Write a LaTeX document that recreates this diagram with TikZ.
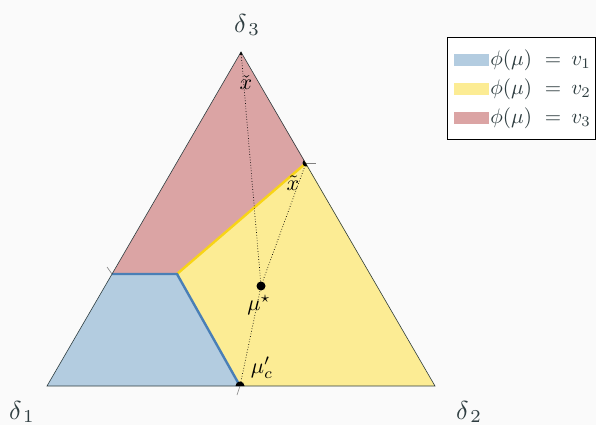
\documentclass[tikz,border=0pt]{standalone}
\usepackage{amsmath,amssymb}
\usepackage{tikz}
\usetikzlibrary{calc}
\definecolor{bg}{HTML}{FAFAFA}
\definecolor{ink}{HTML}{2E3D40}
\definecolor{regone}{HTML}{B3CCE0}
\definecolor{regtwo}{HTML}{FCEC94}
\definecolor{regthree}{HTML}{DBA4A4}
\definecolor{edgeone}{HTML}{4A7FB6}
\definecolor{edgetwo}{HTML}{F8D416}

\begin{document}
\begin{tikzpicture}[x=1pt,y=-1pt,
  vlbl/.style={text=ink,scale=2.6,inner sep=0pt},
  plbl/.style={scale=2.2,inner sep=0pt},
  keylbl/.style={text=ink,scale=2.1,anchor=west,inner sep=0pt},
  guide/.style={dotted,line width=0.7pt},
  tickmark/.style={gray,line width=0.6pt}]
  \fill[bg] (0,0) rectangle (596,425);
  \useasboundingbox (0,0) rectangle (596,425);

  % simplex corners and the points on it
  \coordinate (d1) at (47,386);
  \coordinate (d2) at (435,386);
  \coordinate (d3) at (241,52);
  \coordinate (pl) at (112,274);
  \coordinate (pm) at (177,274);
  \coordinate (xt) at (306,163);
  \coordinate (mc) at (240,386);
  \coordinate (ms) at (261,286);

  \fill[regone] (d1) -- (pl) -- (pm) -- (mc) -- cycle;
  \fill[regtwo] (pm) -- (mc) -- (d2) -- (xt) -- cycle;
  \fill[regthree] (pl) -- (pm) -- (xt) -- (d3) -- cycle;
  \draw[edgetwo,line width=2.4pt] (pm) -- (xt);
  \draw[edgeone,line width=2.4pt] (pl) -- (pm) -- (mc);
  \draw[ink,line width=0.6pt] (d1) -- (d2) -- (d3) -- cycle;

  \draw[tickmark] (pl) -- ++(-5,-7);
  \draw[tickmark] (xt) -- ++(10,0);
  \draw[tickmark] (mc) -- ++(-3,9);

  \draw[guide] (d3) -- (ms);
  \draw[guide] (xt) -- (ms);
  \draw[guide] (ms) -- (mc);

  \begin{scope}
    \clip (d1) -- (d2) -- (d3) -- cycle;
    \fill (d3) circle (3);
    \fill (xt) circle (3.5);
    \fill (mc) circle (4.5);
  \end{scope}
  \fill (ms) circle (4.5);

  \node[vlbl] (l3) at (247,25) {$\delta_{\hspace{1pt}3}$};
  \node[vlbl] (l1) at (22,412) {$\delta_{\hspace{1pt}1}$};
  \node[vlbl] (l2) at (469,412) {$\delta_{\hspace{1pt}2}$};
  \node[plbl] (lxc) at (246,83) {$\check{x}$};
  \node[plbl] (lxt) at (293,183) {$\tilde{x}$};
  \node[plbl] (lms) at (259,305) {$\mu^{\star}$};
  \node[plbl] (lmc) at (262,368) {$\mu_c'$};

  % legend
  \draw[black,fill=white,line width=0.8pt] (447,37) rectangle (595,139);
  \fill[regone] (454,54) rectangle (489,66);
  \fill[regtwo] (454,83) rectangle (489,95);
  \fill[regthree] (454,112) rectangle (489,124);
  \node[keylbl] (k1) at (490,60) {$\phi(\mu)\hspace{3.4pt}=\hspace{2pt}v_1$};
  \node[keylbl] (k2) at (490,89) {$\phi(\mu)\hspace{3.4pt}=\hspace{2pt}v_2$};
  \node[keylbl] (k3) at (490,118) {$\phi(\mu)\hspace{3.4pt}=\hspace{2pt}v_3$};
\end{tikzpicture}
\end{document}
